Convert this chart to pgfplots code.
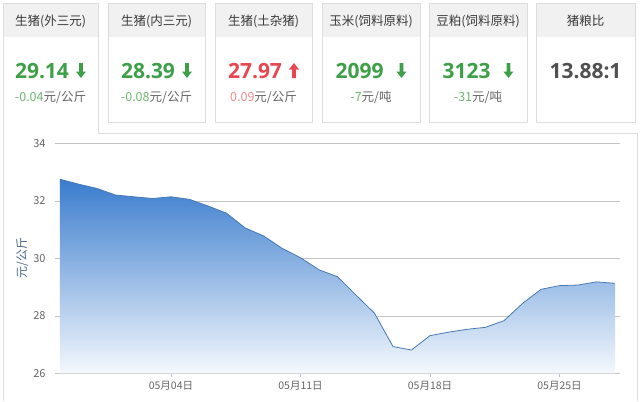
\documentclass[border=0pt]{standalone}
\usepackage{fontspec}
\setmainfont{Noto Sans CJK SC}
\newfontfamily\numfont{Open Sans}
\usepackage{pgfplots}
\usepackage{pgfplotstable}
\pgfplotsset{compat=1.18}

\definecolor{cardline}{HTML}{DDDDDD}
\definecolor{headbg}{HTML}{F1F1F1}
\definecolor{hdtext}{HTML}{3A3A3A}
\definecolor{upred}{HTML}{E8474F}
\definecolor{downgreen}{HTML}{3DA048}
\definecolor{subgreen}{HTML}{6DB86D}
\definecolor{subred}{HTML}{EE8C8C}
\definecolor{txtgray}{HTML}{666666}
\definecolor{ratiogray}{HTML}{505050}
\definecolor{fillblue}{HTML}{3A7CCD}
\definecolor{midblue}{HTML}{7DAAE4}
\definecolor{lowblue}{HTML}{F4F8FD}
\definecolor{lineblue}{HTML}{4A7AB5}
\definecolor{gridgray}{HTML}{C4C4C4}
\definecolor{labelblue}{HTML}{4D6A8A}

% day index: 0 = 04-30, 4 = 05-04
\pgfplotstableread{
day price
-2 32.75
-1 32.58
0 32.43
1 32.20
2 32.14
3 32.08
4 32.14
5 32.05
6 31.82
7 31.57
8 31.06
9 30.78
10 30.35
11 30.02
12 29.60
13 29.36
14 28.72
15 28.09
16 26.93
17 26.81
18 27.31
19 27.43
20 27.53
21 27.60
22 27.83
23 28.43
24 28.92
25 29.05
26 29.07
27 29.18
28 29.13
}\pricedata

\newcommand{\dnarr}[1]{\tikz[baseline=0pt,x=1pt,y=1pt]\fill[#1] (-1.8,15) -- (1.8,15) -- (1.8,6.5) -- (5,6.5) -- (0,0) -- (-5,6.5) -- (-1.8,6.5) -- cycle;}
\newcommand{\uparr}[1]{\tikz[baseline=0pt,x=1pt,y=1pt]\fill[#1] (-1.8,0) -- (1.8,0) -- (1.8,8.5) -- (5,8.5) -- (0,15) -- (-5,8.5) -- (-1.8,8.5) -- cycle;}
\newcommand{\hd}{\fontsize{12.5}{14}\selectfont}
\newcommand{\bignum}{\numfont\bfseries\fontsize{21}{24}\selectfont}
\newcommand{\sub}{\fontsize{12.5}{14}\selectfont}

\newcommand{\cardbox}[2]{%
  \fill[white] (#1pt,-3pt) rectangle (#2pt,-122pt);
  \fill[headbg] (#1pt,-3pt) rectangle (#2pt,-37pt);
  \draw[cardline] (#1pt,-3pt) rectangle (#2pt,-122pt);}

\begin{document}
\begin{tikzpicture}
\fill[white] (0pt,0pt) rectangle (640pt,-401pt);

% active first tab and chart panel
\fill[headbg] (3pt,-3pt) rectangle (98pt,-37pt);
\draw[cardline] (98pt,-133pt) -- (98pt,-3pt) -- (3pt,-3pt) -- (3pt,-401pt);
\draw[cardline] (98pt,-133pt) -- (637pt,-133pt) -- (637pt,-401pt);

\cardbox{108}{205}
\cardbox{215}{312}
\cardbox{322}{420}
\cardbox{429}{527}
\cardbox{536}{635}

% headers
\node[text=hdtext, font=\hd] at (50.5pt,-21pt) {生猪(外三元)};
\node[text=hdtext, font=\hd] at (156.5pt,-21pt) {生猪(内三元)};
\node[text=hdtext, font=\hd] at (263.5pt,-21pt) {生猪(土杂猪)};
\node[text=hdtext, font=\hd] at (371pt,-21pt) {玉米(饲料原料)};
\node[text=hdtext, font=\hd] at (478pt,-21pt) {豆粕(饲料原料)};
\node[text=hdtext, font=\hd] at (585.5pt,-21pt) {猪粮比};

% values
\node[text=downgreen, anchor=base] at (50.5pt,-78pt) {\bignum 29.14\hspace{7pt}\dnarr{downgreen}};
\node[text=downgreen, anchor=base] at (156.5pt,-78pt) {\bignum 28.39\hspace{7pt}\dnarr{downgreen}};
\node[text=upred, anchor=base] at (263.5pt,-78pt) {\bignum 27.97\hspace{7pt}\uparr{upred}};
\node[text=downgreen, anchor=base] at (371pt,-78pt) {\bignum 2099\hspace{13pt}\dnarr{downgreen}};
\node[text=downgreen, anchor=base] at (478pt,-78pt) {\bignum 3123\hspace{13pt}\dnarr{downgreen}};
\node[text=ratiogray, anchor=base] at (585.5pt,-78pt) {\bignum 13.88:1};

% changes
\node[font=\sub] at (50.5pt,-97pt) {\textcolor{subgreen}{-0.04}\textcolor{txtgray}{元/公斤}};
\node[font=\sub] at (156.5pt,-97pt) {\textcolor{subgreen}{-0.08}\textcolor{txtgray}{元/公斤}};
\node[font=\sub] at (263.5pt,-97pt) {\textcolor{subred}{0.09}\textcolor{txtgray}{元/公斤}};
\node[font=\sub] at (371pt,-97pt) {\textcolor{subgreen}{-7}\textcolor{txtgray}{元/吨}};
\node[font=\sub] at (478pt,-97pt) {\textcolor{subgreen}{-31}\textcolor{txtgray}{元/吨}};

\begin{axis}[
    at={(55pt,-373.3pt)}, anchor=south west,
    scale only axis, width=565pt, height=230pt,
    xmin=-2.27, xmax=28.27, ymin=26, ymax=34,
    ytick={26,28,30,32,34},
    xtick={4,11,18,25},
    xticklabels={05月04日,05月11日,05月18日,05月25日},
    axis x line*=bottom, axis y line*=left,
    axis line style={-},
    y axis line style={draw=none},
    x axis line style={draw=gridgray, line width=0.8pt},
    ymajorgrids, grid style={gridgray, line width=0.6pt},
    major y tick style={draw=none},
    major x tick style={gridgray, line width=0.8pt},
    tick align=outside, major tick length=4pt,
    /pgf/number format/assume math mode=true,
    ticklabel style={text=txtgray},
    xticklabel style={font=\fontsize{10.5}{12}\selectfont},
    yticklabel style={font=\fontsize{11}{12}\selectfont, xshift=-2pt},
    ylabel={元/公斤},
    ylabel style={at={(axis description cs:-0.058,0.5)}, anchor=center,
                  font=\fontsize{12}{14}\selectfont, text=labelblue},
]
\addplot[draw=none, top color=fillblue, middle color=midblue, bottom color=lowblue]
    table[x=day, y=price] {\pricedata} -- (axis cs:28,26) -- (axis cs:-2,26) -- cycle;
\addplot[lineblue, line width=0.8pt] table[x=day, y=price] {\pricedata};
\end{axis}
\end{tikzpicture}
\end{document}
